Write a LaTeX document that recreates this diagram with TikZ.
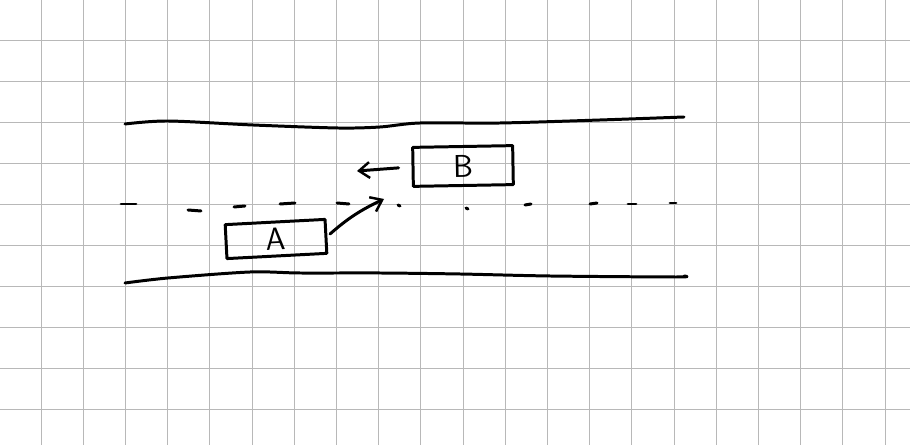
\documentclass[tikz,border=0pt]{standalone}
\usetikzlibrary{arrows.meta}
\begin{document}
\begin{tikzpicture}[x=0.02cm, y=-0.02cm,
		gridline/.style={black!28, line width=0.55pt},
		pen/.style={line width=1.7pt, line cap=round, line join=round},
		car/.style={draw, pen, rectangle, minimum width=2cm, font=\sffamily\fontsize{18}{18}\selectfont},
		sketcharrow/.style={pen, -{Straight Barb[length=6pt, width=9pt, line width=1.4pt]}}]
	\useasboundingbox (0,0) rectangle (910,445);
	% squared paper
	\foreach \i in {0,...,20} \draw[gridline] ({41+42.2*\i},0) -- ({41+42.2*\i},445);
	\foreach \j in {0,...,9} \draw[gridline] (0,{40+41*\j}) -- (910,{40+41*\j});
	% road edges
	\draw[pen] plot[smooth] coordinates {(125,124) (168,121) (253,125) (338,128) (380,127) (420,123) (500,123) (600,120) (684,117)};
	\draw[pen] plot[smooth] coordinates {(125,283) (168,278) (250,272) (300,273) (380,273) (460,274) (550,276) (676,277) (684,276)};
	% centre line
	\foreach \xa/\ya/\xb/\yb in {121/204/136/204, 188/210/201/211, 234/207/245/206, 280/204/295/203, 337/203/349/204,
		398/205/400/206, 466/208/468/209, 525/205/531/204, 590/204/597/203, 628/204/636/204, 670/203/676/203}
		\draw[pen] (\xa,\ya) -- (\xb,\yb);
	% cars
	\node[car, minimum height=0.68cm, rotate=3] (A) at (276,239) {A};
	\node[car, minimum height=0.78cm, rotate=1] (B) at (463,166) {B};
	\coordinate (bTip) at (357,171);
	\coordinate (aTip) at (384,199);
	\draw[sketcharrow, shorten <=0.26cm] (B.west) -- (bTip);
	\draw[sketcharrow, shorten <=2pt] (A.east) to[bend left=8] (aTip);
\end{tikzpicture}
\end{document}
